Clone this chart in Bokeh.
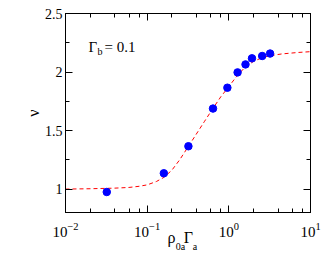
from bokeh.plotting import figure
from bokeh.models import (LogAxis, LinearAxis, FixedTicker, LogTicker, LogTickFormatter,
                          CustomJSTickFormatter, Label, Range1d)
from bokeh.embed import file_html
from bokeh.resources import INLINE

# measured points
rho_gamma = [0.032, 0.16, 0.32, 0.64, 0.96, 1.28, 1.6, 1.92, 2.56, 3.2]
nu_points = [0.975, 1.135, 1.366, 1.688, 1.866, 1.997, 2.065, 2.117, 2.137, 2.158]

# fitted (dashed) curve
curve_x = [0.01, 0.02, 0.04, 0.06, 0.08, 0.1, 0.13, 0.16, 0.2, 0.25, 0.32, 0.4, 0.5,
           0.64, 0.8, 1.0, 1.25, 1.6, 2.0, 2.5, 3.2, 4.5, 7.0, 10.0]
curve_y = [1.000, 1.003, 1.008, 1.014, 1.024, 1.036, 1.065, 1.10, 1.16, 1.25, 1.365, 1.47, 1.575,
           1.69, 1.79, 1.875, 1.965, 2.045, 2.09, 2.12, 2.14, 2.155, 2.167, 2.174]

x_ticks = [0.01, 0.1, 1, 10]
y_ticks = [1, 1.5, 2, 2.5]
y_tick_labels = ["1", "1.5", "2", "2.5"]
y_minor_ticks = [1.25, 1.75, 2.25]

# x-axis title rho_{0a} Gamma_a: main letters and subscripts
title_main = ["ρ", "Γ"]
title_sub = ["0a", "a"]

X0, X1 = 0.01, 10.0
Y0, Y1 = 0.8, 2.5

SERIF = "Liberation Serif"

p = figure(width=332, height=259, x_axis_type="log", output_backend="svg",
           toolbar_location=None, x_range=Range1d(X0, X1), y_range=Range1d(Y0, Y1),
           min_border_left=65, min_border_right=22, min_border_top=13, min_border_bottom=47)
p.background_fill_color = "white"
p.border_fill_color = "white"
p.grid.visible = False
p.outline_line_color = "black"

p.line(curve_x, curve_y, line_color="#ff0000", line_width=1, line_dash="4 3")
p.scatter(rho_gamma, nu_points, size=7.5, fill_color="#0000ff", line_color="#0000ff")

empty = CustomJSTickFormatter(code="return ''")

def style(ax):
    ax.axis_line_color = "black"
    ax.axis_line_width = 1
    ax.major_tick_line_color = "black"
    ax.minor_tick_line_color = "black"
    ax.major_tick_in = 7
    ax.major_tick_out = 0
    ax.minor_tick_in = 4
    ax.minor_tick_out = 0

# bottom
xb = p.xaxis[0]
xb.ticker = LogTicker()
xb.formatter = LogTickFormatter()
xb.major_label_text_font = SERIF
xb.major_label_text_font_size = "15px"
xb.major_label_text_color = "black"
xb.major_label_standoff = 10
style(xb)

# left
yl = p.yaxis[0]
yl.ticker = FixedTicker(ticks=y_ticks, minor_ticks=y_minor_ticks)
yl.major_label_overrides = {t: s for t, s in zip(y_ticks, y_tick_labels)}
yl.major_label_text_font = SERIF
yl.major_label_text_font_size = "14px"
yl.major_label_text_color = "black"
yl.major_label_standoff = 3
yl.axis_label = "ν"
yl.axis_label_text_font = SERIF
yl.axis_label_text_font_size = "16px"
yl.axis_label_text_font_style = "normal"
yl.axis_label_text_color = "black"
yl.axis_label_standoff = 0
style(yl)

top = LogAxis(ticker=LogTicker(), formatter=empty, major_label_standoff=0)
style(top)
p.add_layout(top, "above")
right = LinearAxis(ticker=FixedTicker(ticks=y_ticks, minor_ticks=y_minor_ticks),
                   formatter=empty, major_label_standoff=0)
style(right)
p.add_layout(right, "right")

# text rows for the x-axis title, laid out as label-only axes under the bottom axis
def text_row(labels, where, size, standoff):
    ax = LogAxis(ticker=FixedTicker(ticks=where, minor_ticks=[]),
                 formatter=CustomJSTickFormatter(args=dict(labs=labels), code="return labs[index]"),
                 major_label_standoff=standoff,
                 major_label_text_font=SERIF, major_label_text_font_size=size,
                 major_label_text_color="black",
                 axis_line_color=None, major_tick_line_color=None, minor_tick_line_color=None,
                 major_tick_in=0, major_tick_out=0, minor_tick_in=0, minor_tick_out=0)
    p.add_layout(ax, "below")

text_row(title_main, [0.1987, 0.3206], "16px", -11)
text_row(title_sub, [0.2559, 0.3853], "10px", -8)

def lab(text, dx, dy, size):
    p.add_layout(Label(x=X0, y=Y1, x_offset=dx, y_offset=dy, text=text,
                       text_font=SERIF, text_font_size=size, text_color="black",
                       text_align="left", text_baseline="alphabetic"))

# annotation Gamma_b = 0.1
lab("Γ", 23, -33, "15px")
lab("b", 32, -37.5, "10px")
lab("= 0.1", 39, -33, "15px")

open("out.html", "w").write(file_html(p, INLINE))
